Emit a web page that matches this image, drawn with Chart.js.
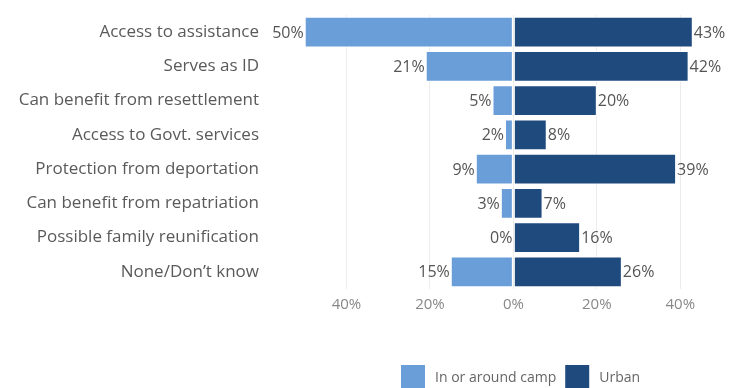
<!DOCTYPE html>
<html>
<head>
<meta charset="utf-8">
<script src="https://cdn.jsdelivr.net/npm/chart.js@4.4.1/dist/chart.umd.min.js"></script>
<style>
  html, body { margin: 0; padding: 0; background: #fff; }
  #wrap { width: 751px; height: 388px; position: relative; }
</style>
</head>
<body>
<div id="wrap"><canvas id="chart" width="751" height="388"></canvas></div>
<script>
// Benefits of holding documentation, by place of residence (share of respondents, %)
const categories = [
  'Access to assistance',
  'Serves as ID',
  'Can benefit from resettlement',
  'Access to Govt. services',
  'Protection from deportation',
  'Can benefit from repatriation',
  'Possible family reunification',
  'None/Don\u2019t know'
];
const seriesNames = ['In or around camp', 'Urban'];
const campShare  = [50, 21, 5, 2, 9, 3, 0, 15];
const urbanShare = [43, 42, 20, 8, 39, 7, 16, 26];
const axisTicks  = [-40, -20, 0, 20, 40];

const CAMP_COLOR = '#6a9ed9';
const URBAN_COLOR = '#1f4a7e';
const FONT = '"Open Sans", "DejaVu Sans", sans-serif';

// Writes each share at the outer end of its bar
const valueLabels = {
  id: 'valueLabels',
  afterDatasetsDraw(chart) {
    const ctx = chart.ctx;
    ctx.save();
    ctx.font = '16px ' + FONT;
    ctx.fillStyle = '#555';
    ctx.textBaseline = 'middle';
    chart.data.datasets.forEach((ds, di) => {
      const meta = chart.getDatasetMeta(di);
      meta.data.forEach((bar, i) => {
        const v = ds.shares[i];
        const text = v + '%';
        if (ds.side < 0) {
          ctx.textAlign = 'right';
          ctx.fillText(text, Math.min(bar.x, bar.base) - 1, bar.y + 1);
        } else {
          ctx.textAlign = 'left';
          ctx.fillText(text, Math.max(bar.x, bar.base) + 1, bar.y + 1);
        }
      });
    });
    ctx.restore();
  }
};

// Legend row under the axis
const bottomLegend = {
  id: 'bottomLegend',
  afterDraw(chart) {
    const ctx = chart.ctx;
    ctx.save();
    ctx.font = '14px ' + FONT;
    ctx.textBaseline = 'middle';
    let x = 401;
    const boxY = 365, box = 24, textY = 378;
    chart.data.datasets.forEach((ds) => {
      ctx.fillStyle = ds.backgroundColor;
      ctx.fillRect(x, boxY, box, box);
      x += box + 10;
      ctx.fillStyle = '#666';
      ctx.textAlign = 'left';
      ctx.fillText(ds.label, x, textY);
      x += ctx.measureText(ds.label).width + 9;
    });
    ctx.restore();
  }
};

new Chart(document.getElementById('chart'), {
  type: 'bar',
  data: {
    labels: categories,
    datasets: [
      {
        label: seriesNames[0],
        shares: campShare,
        side: -1,
        data: campShare.map(v => -v),
        backgroundColor: CAMP_COLOR,
        borderColor: '#ffffff',
        borderWidth: 1,
        borderSkipped: false,
        barPercentage: 0.9,
        categoryPercentage: 1
      },
      {
        label: seriesNames[1],
        shares: urbanShare,
        side: 1,
        data: urbanShare,
        backgroundColor: URBAN_COLOR,
        borderColor: '#ffffff',
        borderWidth: 1,
        borderSkipped: false,
        barPercentage: 0.9,
        categoryPercentage: 1
      }
    ]
  },
  options: {
    indexAxis: 'y',
    responsive: false,
    animation: false,
    layout: { padding: { top: 15, right: 29, left: 0, bottom: 0 } },
    plugins: {
      legend: { display: false },
      tooltip: { enabled: false }
    },
    scales: {
      x: {
        stacked: true,
        min: -60,
        max: 50,
        afterBuildTicks(scale) {
          scale.ticks = axisTicks.map(v => ({ value: v }));
        },
        afterFit(scale) { scale.height = 99; },
        grid: { color: '#ececec', drawTicks: false },
        border: { display: false },
        ticks: {
          padding: 7,
          color: '#888',
          font: { family: FONT, size: 15 },
          callback: v => Math.abs(v) + '%'
        }
      },
      y: {
        stacked: true,
        afterFit(scale) { scale.width = 263; },
        grid: { display: false, drawTicks: false },
        border: { display: false },
        ticks: {
          padding: 4,
          color: '#5a5a5a',
          font: { family: FONT, size: 17 }
        }
      }
    }
  },
  plugins: [valueLabels, bottomLegend]
});
</script>
</body>
</html>
